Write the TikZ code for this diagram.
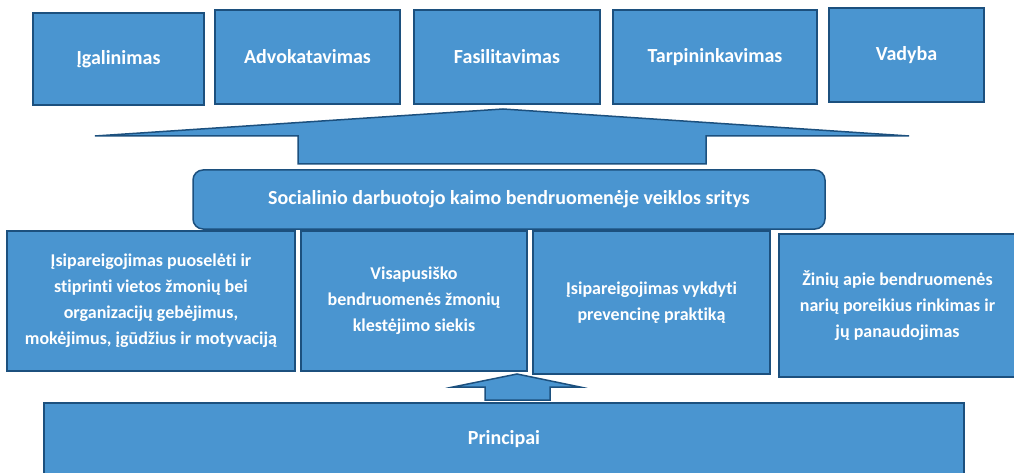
\documentclass[tikz,border=0pt]{standalone}
\usepackage{fontspec}
\setmainfont[Ligatures=NoCommon]{Carlito}
\definecolor{boxblue}{RGB}{74,149,208}
\definecolor{edgeblue}{RGB}{28,80,126}
\begin{document}
\begin{tikzpicture}[
		x=1pt, y=-1pt,
		every node/.style={text=white, font=\bfseries\fontsize{20}{24}\selectfont},
		box/.style={draw=edgeblue, fill=boxblue, line width=1.5pt, inner sep=0pt},
		areabox/.style={box, align=center, font=\bfseries\fontsize{18}{26}\selectfont},
		blockarrow/.style={draw=edgeblue, fill=boxblue, line width=1.5pt, line join=miter}
	]
	\useasboundingbox (0,0) rectangle (1014,473);
	% top row
	\node[box, minimum width=171pt, minimum height=92pt] (igal) at (118.5,59) {Įgalinimas};
	\node[box, minimum width=185pt, minimum height=94pt] (advok) at (307.5,57) {Advokatavimas};
	\node[box, minimum width=186pt, minimum height=94pt] (fasil) at (507,57) {Fasilitavimas};
	\node[box, minimum width=204pt, minimum height=94pt] (tarp) at (715,57) {Tarpininkavimas};
	\node[box, minimum width=155pt, minimum height=94pt] (vad) at (906.5,55) {Vadyba};
	% wide arrow
	\draw[blockarrow] (95,136) -- (503,109) -- (909,136) -- (706,136) -- (706,164)
		-- (298,164) -- (298,136) -- cycle;
	% title
	\node[box, rounded corners=10pt, minimum width=632pt, minimum height=59pt] (sritys) at (509,199.5)
		{Socialinio darbuotojo kaimo bendruomenėje veiklos sritys};
	% areas
	\node[areabox, minimum width=288pt, minimum height=140pt] (puos) at (151,301)
		{Įsipareigojimas puoselėti ir\\stiprinti vietos žmonių bei\\organizacijų gebėjimus,\\mokėjimus, įgūdžius ir motyvaciją};
	\node[areabox, minimum width=226pt, minimum height=140pt] (klest) at (414,301)
		{Visapusiško\\bendruomenės žmonių\\klestėjimo siekis};
	\node[areabox, minimum width=237pt, minimum height=143pt] (prev) at (651.5,302.5)
		{Įsipareigojimas vykdyti\\prevencinę praktiką};
	\node[areabox, minimum width=237pt, minimum height=143pt] (zin) at (897.5,305.5)
		{Žinių apie bendruomenės\\narių poreikius rinkimas ir\\jų panaudojimas};
	% small arrow
	\draw[blockarrow] (517,374) -- (580,387) -- (550,387) -- (550,400) -- (485,400)
		-- (485,387) -- (453,387) -- cycle;
	\node[box, minimum width=920pt, minimum height=72pt] (princ) at (504,439) {Principai};
\end{tikzpicture}
\end{document}
